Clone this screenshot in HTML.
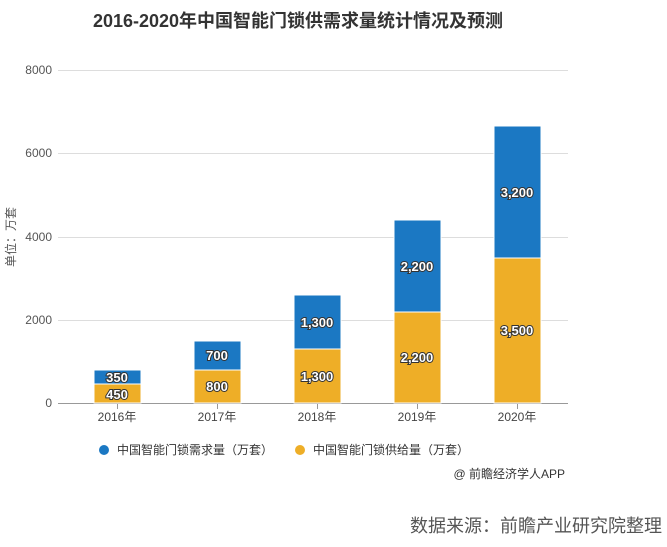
<!DOCTYPE html>
<html><head><meta charset="utf-8"><style>
body{margin:0;background:#fff;}
svg text{font-family:"Liberation Sans","Noto Sans CJK SC",sans-serif;}
.lb{font-weight:bold;font-size:13px;fill:#fff;stroke:#333;stroke-width:2px;paint-order:stroke;text-anchor:middle;}
</style></head><body>
<svg width="667" height="542" xmlns="http://www.w3.org/2000/svg">
<rect width="667" height="542" fill="#fff"/>
<text x="298" y="27" font-size="18" font-weight="bold" fill="#333" text-anchor="middle">2016-2020年中国智能门锁供需求量统计情况及预测</text>
<g stroke="#ddd" stroke-width="1">
<line x1="58" y1="70.5" x2="568" y2="70.5"/>
<line x1="58" y1="153.5" x2="568" y2="153.5"/>
<line x1="58" y1="237.5" x2="568" y2="237.5"/>
<line x1="58" y1="320.5" x2="568" y2="320.5"/>
</g>
<line x1="58" y1="403.5" x2="568" y2="403.5" stroke="#999"/>
<g stroke="#999"><line x1="117.5" y1="403" x2="117.5" y2="409"/><line x1="217.5" y1="403" x2="217.5" y2="409"/><line x1="317.5" y1="403" x2="317.5" y2="409"/><line x1="417.5" y1="403" x2="417.5" y2="409"/><line x1="517.5" y1="403" x2="517.5" y2="409"/></g>
<g font-size="12" fill="#555" text-anchor="end">
<text x="52" y="74">8000</text><text x="52" y="157">6000</text><text x="52" y="241">4000</text><text x="52" y="324">2000</text><text x="52" y="407">0</text>
</g>
<text transform="translate(15,237) rotate(-90)" font-size="12" fill="#555" text-anchor="middle">单位：万套</text>
<g font-size="12" fill="#444" text-anchor="middle">
<text x="117" y="421">2016年</text><text x="217" y="421">2017年</text><text x="317" y="421">2018年</text><text x="417" y="421">2019年</text><text x="517" y="421">2020年</text>
</g>
<g fill="#eeae27" stroke="#fff" stroke-width="1">
<rect x="94" y="384" width="47" height="19"/>
<rect x="194" y="370" width="47" height="33"/>
<rect x="294" y="349" width="47" height="54"/>
<rect x="394" y="312" width="47" height="91"/>
<rect x="494" y="258" width="47" height="145"/>
</g>
<g fill="#1b78c3" stroke="#fff" stroke-width="1">
<rect x="94" y="370" width="47" height="14"/>
<rect x="194" y="341" width="47" height="29"/>
<rect x="294" y="295" width="47" height="54"/>
<rect x="394" y="220" width="47" height="92"/>
<rect x="494" y="126" width="47" height="132"/>
</g>
<text class="lb" x="117" y="382">350</text><text class="lb" x="117" y="399">450</text>
<text class="lb" x="217" y="360">700</text><text class="lb" x="217" y="391">800</text>
<text class="lb" x="317" y="327">1,300</text><text class="lb" x="317" y="381">1,300</text>
<text class="lb" x="417" y="271">2,200</text><text class="lb" x="417" y="362">2,200</text>
<text class="lb" x="517" y="197">3,200</text><text class="lb" x="517" y="335">3,500</text>
<circle cx="104" cy="450" r="5" fill="#1b78c3"/>
<text x="117" y="454" font-size="12" fill="#333">中国智能门锁需求量（万套）</text>
<circle cx="300" cy="450" r="5" fill="#eeae27"/>
<text x="313" y="454" font-size="12" fill="#333">中国智能门锁供给量（万套）</text>
<text x="565" y="478" font-size="12" fill="#333" text-anchor="end">@ 前瞻经济学人APP</text>
<text x="662" y="532" font-size="18" fill="#555" text-anchor="end">数据来源：前瞻产业研究院整理</text>
</svg>
</body></html>
